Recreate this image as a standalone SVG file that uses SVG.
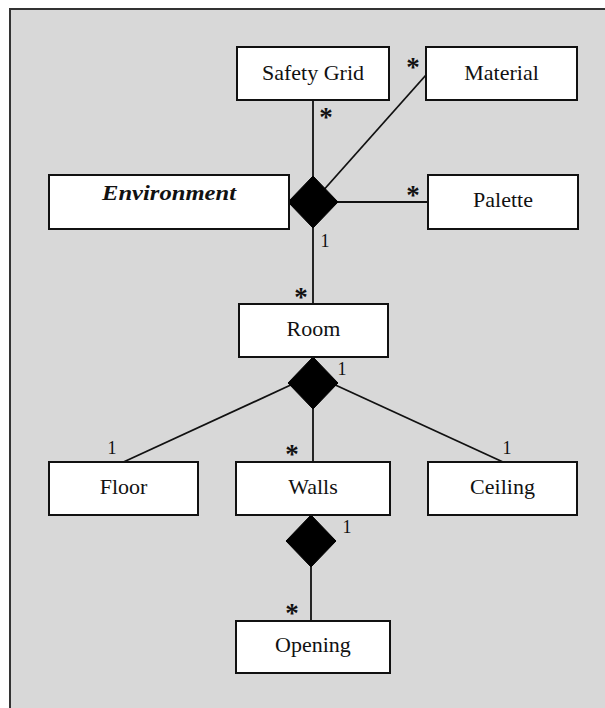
<svg xmlns="http://www.w3.org/2000/svg" width="605" height="708" viewBox="0 0 605 708">
  <style>
    .box { fill: #ffffff; stroke: #111111; stroke-width: 2; }
    .lbl { font-family: "Liberation Serif", "Times New Roman", serif; font-size: 22px; fill: #111111; text-anchor: middle; }
    .abs { font-weight: bold; font-style: italic; }
    .mult { font-family: "Liberation Serif", "Times New Roman", serif; fill: #111111; text-anchor: middle; }
    .star { font-size: 27px; font-weight: bold; }
    .one { font-size: 18px; }
    .link { stroke: #111111; stroke-width: 1.8; fill: none; }
    .agg { fill: #000000; stroke: #000000; stroke-width: 1; }
  </style>

  <rect x="0" y="0" width="605" height="708" fill="#ffffff"/>
  <!-- frame -->
  <rect x="10" y="9" width="620" height="720" fill="#d8d8d8" stroke="#333333" stroke-width="2"/>

  <!-- connectors -->
  <g id="connectors">
    <line class="link" x1="313" y1="100" x2="313" y2="190"/>
    <line class="link" x1="426" y1="75" x2="313" y2="202"/>
    <line class="link" x1="320" y1="202" x2="428" y2="202"/>
    <line class="link" x1="313" y1="215" x2="313" y2="304"/>
    <line class="link" x1="295" y1="383" x2="123.5" y2="462"/>
    <line class="link" x1="313" y1="395" x2="313" y2="462"/>
    <line class="link" x1="331" y1="383" x2="503" y2="462"/>
    <line class="link" x1="311" y1="555" x2="311" y2="621"/>

    <!-- composition diamonds -->
    <polygon class="agg" points="313,176 338,202 313,228 288,202"/>
    <polygon class="agg" points="313,357 338,383 313,409 288,383"/>
    <polygon class="agg" points="311,515 336,541 311,567 286,541"/>

    <!-- multiplicities -->
    <text class="mult star" x="326" y="126">*</text>
    <text class="mult star" x="413" y="75.5">*</text>
    <text class="mult star" x="413" y="204">*</text>
    <text class="mult one" x="325" y="247">1</text>
    <text class="mult star" x="301" y="305.5">*</text>
    <text class="mult one" x="342" y="375">1</text>
    <text class="mult one" x="112" y="454">1</text>
    <text class="mult star" x="292" y="463">*</text>
    <text class="mult one" x="507" y="454">1</text>
    <text class="mult one" x="347" y="532.5">1</text>
    <text class="mult star" x="292" y="622">*</text>
  </g>

  <g id="safety-grid">
    <rect class="box" x="237" y="47" width="152" height="53"/>
    <text class="lbl" x="313" y="79.5">Safety Grid</text>
  </g>
  <g id="material">
    <rect class="box" x="426" y="47" width="151" height="53"/>
    <text class="lbl" x="501.5" y="79.5">Material</text>
  </g>
  <g id="environment">
    <rect class="box" x="49" y="175" width="240" height="54"/>
    <text class="lbl abs" x="169" y="200" textLength="134" lengthAdjust="spacingAndGlyphs">Environment</text>
  </g>
  <g id="palette">
    <rect class="box" x="428" y="175" width="150" height="54"/>
    <text class="lbl" x="503" y="207">Palette</text>
  </g>
  <g id="room">
    <rect class="box" x="239" y="304" width="149" height="53"/>
    <text class="lbl" x="313.5" y="336">Room</text>
  </g>
  <g id="floor">
    <rect class="box" x="49" y="462" width="149" height="53"/>
    <text class="lbl" x="123.5" y="494">Floor</text>
  </g>
  <g id="walls">
    <rect class="box" x="236" y="462" width="154" height="53"/>
    <text class="lbl" x="313" y="494">Walls</text>
  </g>
  <g id="ceiling">
    <rect class="box" x="428" y="462" width="149" height="53"/>
    <text class="lbl" x="502.5" y="494">Ceiling</text>
  </g>
  <g id="opening">
    <rect class="box" x="236" y="621" width="154" height="52"/>
    <text class="lbl" x="313" y="652">Opening</text>
  </g>
</svg>
